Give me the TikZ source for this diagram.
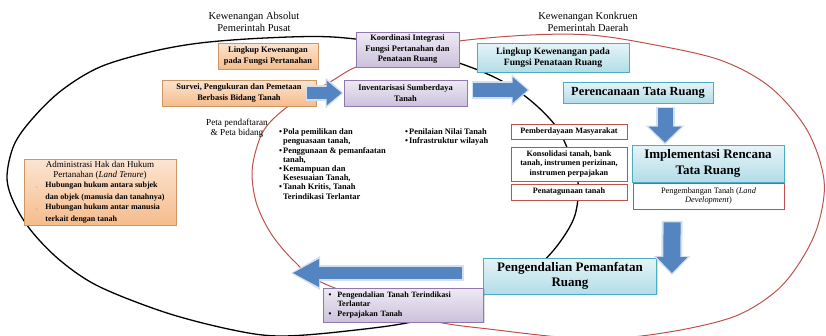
\documentclass[tikz,border=0pt]{standalone}
\usepackage{fontspec}
\setmainfont{Liberation Serif}
\usetikzlibrary{arrows.meta,shadows,calc}

\definecolor{ellred}{HTML}{C0504D}
\definecolor{orTop}{HTML}{FCE4D0}
\definecolor{orBot}{HTML}{F5BC8C}
\definecolor{orLine}{HTML}{D09660}
\definecolor{puTop}{HTML}{EEEAF3}
\definecolor{puBot}{HTML}{CCC1DC}
\definecolor{puLine}{HTML}{8E78AE}
\definecolor{cyTop}{HTML}{E6F4F8}
\definecolor{cyBot}{HTML}{B2DDE7}
\definecolor{cyLine}{HTML}{4BACC6}
\definecolor{arrBlue}{HTML}{5585C0}
\definecolor{arrGlow}{HTML}{D3E0EF}
\definecolor{dashc}{HTML}{D79A66}

\tikzset{
  box/.style={draw, line width=0.9pt, align=center, inner sep=1pt,
    drop shadow={shadow xshift=1.3pt, shadow yshift=-1.3pt, opacity=0.25}},
  orbox/.style={box, draw=orLine, top color=orTop, bottom color=orBot},
  pubox/.style={box, draw=puLine, top color=puTop, bottom color=puBot},
  cybox/.style={box, draw=cyLine, top color=cyTop, bottom color=cyBot},
  rdbox/.style={draw=ellred, line width=0.9pt, fill=white, align=center, inner sep=1pt},
  dims/.style 2 args={minimum width=#1, minimum height=#2},
  fsmall/.style={font=\fontsize{8.2}{9.3}\selectfont\bfseries},
  fmid/.style={font=\fontsize{8.4}{10.5}\selectfont\bfseries},
  fbig/.style={font=\fontsize{13}{15.5}\selectfont\bfseries},
  ftitle/.style={font=\fontsize{10.5}{12}\selectfont},
  flist/.style={font=\fontsize{8.4}{9.2}\selectfont\bfseries},
  blockarrow/.style n args={6}{draw=arrBlue, line width=#1,
    -{Triangle[width=#2,length=#3,line width=0pt]},
    preaction={draw=arrGlow, line width=#4,
      -{Triangle[width=#5,length=#6,line width=0pt]},
      shorten >=-2pt, shorten <=-1.5pt}},
  harrow/.style={blockarrow={12pt}{25pt}{15pt}{16pt}{31pt}{18pt}},
  varrow/.style={blockarrow={15pt}{33pt}{16pt}{19pt}{39pt}{19pt}},
}

\begin{document}
\begin{tikzpicture}[x=1pt, y=-1pt]
\useasboundingbox (0,0) rectangle (826,335);

% scope of the central government
\draw[line width=1.3pt] plot[smooth cycle, tension=0.55] coordinates {
  (7,178) (14,145) (33,118) (62,90) (100,67) (150,52) (200,43) (265,38)
  (333,37) (400,46) (459,63) (500,80) (530,100) (555,125) (568,150)
  (578,182) (575,215) (560,242) (540,264) (512,282) (483,295) (420,320)
  (347,331) (280,336) (233,330) (167,313) (100,287) (62,262) (33,233)
  (15,205)};

% scope of the regional government
\draw[ellred, line width=1pt] plot[smooth cycle, tension=0.55] coordinates {
  (252,175) (256,150) (266,127) (290,105) (330,82) (356,67) (400,52)
  (459,41) (530,35) (590,35) (650,44) (720,60) (770,87) (807,130)
  (824,180) (818,225) (800,262) (775,292) (733,317) (663,333) (590,339)
  (497,330) (420,318) (323,283) (295,262) (272,235) (257,205)};

% headings
\node[ftitle, align=center] (absolut) at (254,22) {Kewenangan Absolut\\Pemerintah Pusat};
\node[ftitle, align=center] (konkruen) at (588,22) {Kewenangan Konkruen\\Pemerintah Daerah};

% land functions
\node[orbox, fmid, dims={100pt}{26pt}] (lingP) at (268,56) {Lingkup Kewenangan\\pada Fungsi Pertanahan};
\node[orbox, fmid, dims={154pt}{26pt}] (survei) at (239,93) {Survei, Pengukuran dan Pemetaan\\Berbasis Bidang Tanah};
\node[pubox, fmid, dims={103pt}{35pt}] (koord) at (407.5,49.5) {Koordinasi Integrasi\\Fungsi Pertanahan dan\\Penataan Ruang};
\node[pubox, fmid, dims={123pt}{26pt}] (inv) at (405.5,93) {Inventarisasi Sumberdaya\\Tanah};

\node[orbox, dims={152pt}{65pt}, font=\fontsize{8}{9.8}\selectfont] (admin) at (100,192.5)
  {\begin{tabular}{@{}p{10pt}@{}l@{}}
   \multicolumn{2}{c}{\fontsize{9}{9.8}\selectfont Administrasi Hak dan Hukum}\\
   \multicolumn{2}{c}{\fontsize{9}{9.8}\selectfont Pertanahan (\textit{Land Tenure})}\\
   {\color{dashc}-} & \bfseries Hubungan hukum antara subjek\\
    & \bfseries dan objek (manusia dan tanahnya)\\
   {\color{dashc}-} & \bfseries Hubungan hukum antar manusia\\
    & \bfseries terkait dengan tanah
   \end{tabular}};

\node[align=center, font=\fontsize{9.2}{9.8}\selectfont] (peta) at (237,128) {Peta pendaftaran\\\& Peta bidang};

\node[anchor=north west, inner sep=0pt, flist] (inventlist) at (279,128)
  {\begin{tabular}{@{}l@{\hspace{1pt}}l@{}}
   \textbullet & Pola pemilikan dan\\
    & penguasaan tanah,\\
   \textbullet & Penggunaan \& pemanfaatan\\
    & tanah,\\
   \textbullet & Kemampuan dan\\
    & Kesesuaian Tanah,\\
   \textbullet & Tanah Kritis, Tanah\\
    & Terindikasi Terlantar
   \end{tabular}};

\node[anchor=north west, inner sep=0pt, flist] (nilailist) at (405,128)
  {\begin{tabular}{@{}l@{\hspace{1pt}}l@{}}
   \textbullet & Penilaian Nilai Tanah\\
   \textbullet & Infrastruktur wilayah
   \end{tabular}};

% spatial planning functions
\node[cybox, font=\fontsize{9.6}{11.5}\selectfont\bfseries, dims={152pt}{29pt}] (lingR) at (553,57.5) {Lingkup Kewenangan pada\\Fungsi Penataan Ruang};
\node[cybox, font=\fontsize{12.4}{15}\selectfont\bfseries, dims={150pt}{21pt}] (per) at (638,92.5) {Perencanaan Tata Ruang};
\node[cybox, fbig, dims={152pt}{37pt}] (impl) at (708,163.5) {Implementasi Rencana\\Tata Ruang};
\node[rdbox, font=\fontsize{8.3}{9.5}\selectfont, dims={151pt}{26pt}] (dev) at (708.5,196) {Pengembangan Tanah (\textit{Land}\\\textit{Development})};

\node[rdbox, fsmall, dims={116pt}{15pt}] (pemb) at (569,131.5) {Pemberdayaan Masyarakat};
\node[rdbox, fsmall, dims={116pt}{34pt}] (kons) at (569,164) {Konsolidasi tanah, bank\\tanah, instrumen perizinan,\\instrumen perpajakan};
\node[rdbox, fsmall, dims={116pt}{16pt}] (pena) at (569,192) {Penatagunaan tanah};

\node[cybox, fbig, dims={173pt}{36pt}] (ctrl) at (570,276) {Pengendalian Pemanfatan\\Ruang};

% flow arrows
\coordinate (leftTip) at (293,273);
\draw[harrow] ([xshift=-9pt]survei.east) -- ([xshift=-2pt]inv.west);
\draw[blockarrow={14pt}{26pt}{15pt}{18pt}{32pt}{18pt}] ([xshift=6pt,yshift=3pt]inv.east) -- ([xshift=-35pt,yshift=2.5pt]per.west);
\draw[varrow] ($(per.south)+(27,5)$) -- ($(impl.north)+(-43,-2)$);
\draw[blockarrow={17pt}{31pt}{16pt}{21pt}{37pt}{19pt}] ($(dev.south)+(-36.5,13)$) -- ($(ctrl.east)+(15,-3)$);
\draw[blockarrow={12pt}{28pt}{26pt}{16pt}{34pt}{29pt}] ($(ctrl.west)+(-21,-3)$) -- (leftTip);

\node[pubox, dims={160pt}{34pt}, text width=154pt, align=left, font=\fontsize{8.1}{9.8}\selectfont\bfseries] (pajak) at (403.5,305)
  {\begin{tabular}{@{}p{11pt}@{}l@{}}
   \hspace{2pt}\textbullet & Pengendalian Tanah Terindikasi\\
    & Terlantar\\
   \hspace{2pt}\textbullet & Perpajakan Tanah
   \end{tabular}};
\end{tikzpicture}
\end{document}
